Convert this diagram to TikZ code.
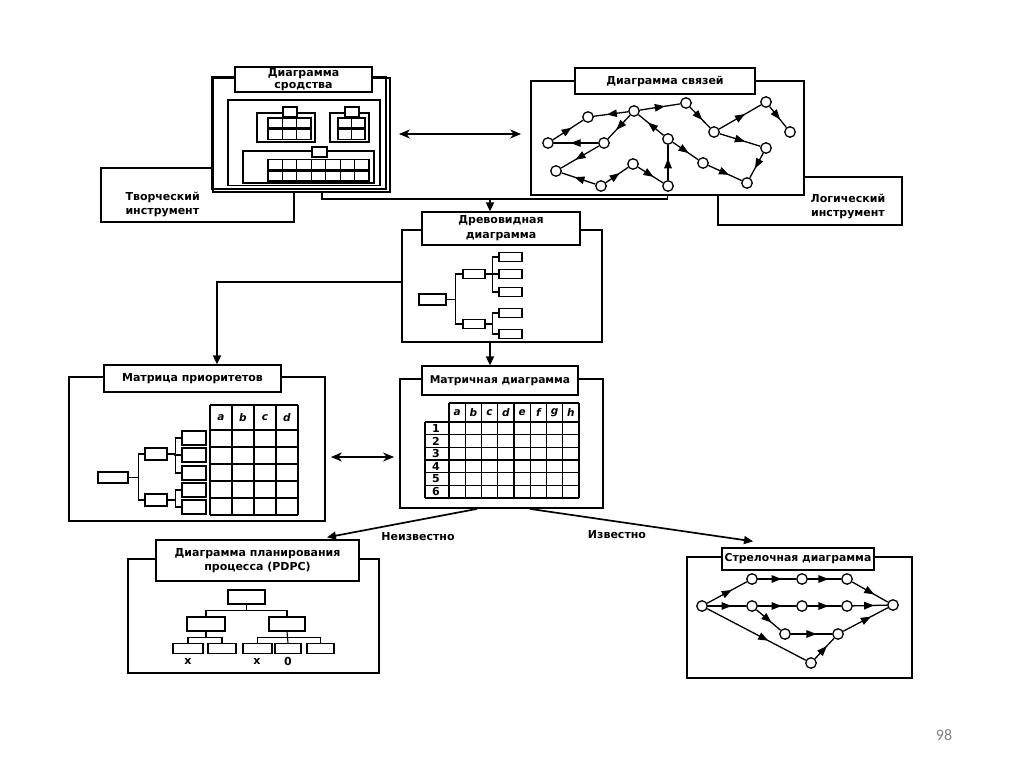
\documentclass[tikz,border=0pt]{standalone}
\usepackage{fontspec}
\setmainfont{DejaVu Sans}
\newfontfamily\numfont{Carlito}
\usetikzlibrary{arrows.meta,decorations.markings,calc}
\begin{document}
\begin{tikzpicture}[x=1pt,y=-1pt,
  txt/.style={font=\fontsize{11}{12}\selectfont\bfseries},
  itxt/.style={font=\fontsize{10.5}{12}\selectfont\bfseries\itshape},
  bigframe/.style={draw,line width=1.8pt,fill=white,inner sep=0pt},
  titlebox/.style={draw,line width=1.3pt,fill=white,align=center,inner sep=0pt,txt},
  sbox/.style={draw,line width=1.2pt,fill=white,inner sep=0pt},
  gnode/.style={circle,draw,line width=1.3pt,fill=white,minimum size=10.5pt,inner sep=0pt},
  midarrow/.style={postaction={decorate},decoration={markings,mark=at position 0.62 with {\arrow{Triangle[length=10pt,width=7.5pt]}}}},
  gedge/.style={line width=1.3pt},
  conn/.style={line width=1.9pt},
  arrtip/.style={-{Triangle[length=9pt,width=8pt]}},
  dbl/.style={line width=1.9pt,{Stealth[length=11pt,width=9pt]}-{Stealth[length=11pt,width=9pt]}},
  gridline/.style={line width=1.2pt},
  tline/.style={line width=1.1pt}
]
\useasboundingbox[fill=white] (0,0) rectangle (1024,767);

% ---------- Diagram of affinity ----------
\node[sbox,line width=1.4pt,minimum width=193pt,minimum height=54pt] (tvor) at (197.5,195) {};
\node[txt,font=\fontsize{11}{14}\selectfont\bfseries,align=left,anchor=west] (tvorlbl) at (122,204.5) {Творческий\\инструмент};
\node[bigframe,minimum width=177pt,minimum height=114pt] (afin) at (301.5,135) {};
\draw[line width=1.3pt] (afin.north west) rectangle ($(afin.south east)+(-5,-4)$);
\node[sbox,line width=1.4pt,minimum width=152pt,minimum height=85.5pt] (afinin) at (304,142.75) {};
\node[titlebox,minimum width=137pt,minimum height=25pt,font=\fontsize{11}{11.5}\selectfont\bfseries] (afint) at (303.5,79.5) {Диаграмма\\сродства};
% group 1
\node[sbox,minimum width=58pt,minimum height=29pt] (g1) at (286,127.5) {};
\foreach \i in {0,1,2} {
  \draw[tline] (268+14.33*\i,118) rectangle ++(14.33,10);
  \draw[tline] (268+14.33*\i,129.5) rectangle ++(14.33,10);
}
\node[sbox,minimum width=14pt,minimum height=10pt] (g1t) at (290,112) {};
% group 2
\node[sbox,minimum width=39pt,minimum height=29pt] (g2) at (349.5,127.5) {};
\foreach \i in {0,1} {
  \draw[tline] (338+13.5*\i,118) rectangle ++(13.5,10);
  \draw[tline] (338+13.5*\i,129.5) rectangle ++(13.5,10);
}
\node[sbox,minimum width=14pt,minimum height=10pt] (g2t) at (352,112) {};
% group 3
\node[sbox,minimum width=131pt,minimum height=32pt] (g3) at (308.5,167) {};
\foreach \i in {0,...,6} {
  \draw[tline] (268+14.43*\i,159.5) rectangle ++(14.43,10);
  \draw[tline] (268+14.43*\i,171) rectangle ++(14.43,10);
}
\node[sbox,minimum width=15pt,minimum height=10pt] (g3t) at (319.5,152) {};

% ---------- Relations diagram ----------
\node[sbox,line width=1.4pt,minimum width=184pt,minimum height=48pt] (logi) at (810,201) {};
\node[txt,font=\fontsize{11}{14.5}\selectfont\bfseries,align=center] (logilbl) at (848,206.5) {Логический\\инструмент};
\node[bigframe,minimum width=273pt,minimum height=114pt] (links) at (667.5,138) {};
\node[titlebox,minimum width=180pt,minimum height=26pt] (linkst) at (665,81) {Диаграмма связей};
\foreach \n/\x/\y in {1/548/143,2/588/117,3/634/111,4/686/103,5/766/102,6/790/132,7/714/132,8/604/143,9/668/139,10/766/148,11/556/171,12/633/164,13/703/163,14/601/186,15/668/186,16/747/183}
  \node[gnode] (ln\n) at (\x,\y) {};
\foreach \a/\b in {1/2,3/2,3/4,4/7,7/5,5/6,7/10,10/16,3/8,8/1,8/11,14/11,14/12,12/15,15/9,9/3,9/13,13/16}
  \draw[gedge,midarrow] (ln\a) -- (ln\b);

\coordinate (c0) at (460,134);
\draw[dbl,shorten <=8pt,shorten >=9pt] (c0 -| afin.east) -- (c0 -| links.west);

% ---------- Tree diagram ----------
\node[bigframe,minimum width=200pt,minimum height=112pt] (tree) at (502,286) {};
\node[titlebox,minimum width=158pt,minimum height=33pt,font=\fontsize{11}{15}\selectfont\bfseries] (treet) at (501,228.5) {Древовидная\\диаграмма};
\coordinate (c1) at (322,199);
\draw[conn] (afin.south -| c1) -- (c1) -- (c1 -| links.south) -- (links.south);
\coordinate (c2) at (490,199);
\draw[conn,arrtip] (c2) -- (c2 |- treet.north);

\node[sbox,minimum width=27pt,minimum height=11pt] (tr0) at (432.5,299.5) {};
\node[sbox,minimum width=22pt,minimum height=9pt] (tm1) at (474,274) {};
\node[sbox,minimum width=22pt,minimum height=9pt] (tm2) at (474,324) {};
\foreach \n/\y in {1/257,2/274,3/292,4/313,5/334}
  \node[sbox,minimum width=23pt,minimum height=9pt] (tl\n) at (510.5,\y) {};
\draw[tline] (tr0.east) -- ++(8.5,0);
\draw[tline] (tm1.west) -| ($(tr0.east)+(8.5,0)$) |- (tm2.west);
\draw[tline] (tm1.east) -- (tl2.west);
\draw[tline] (tl1.west) -| ($(tm1.east)+(7,0)$) |- (tl3.west);
\draw[tline] (tm2.east) -- ++(7,0);
\draw[tline] (tl4.west) -| ($(tm2.east)+(7,0)$) |- (tl5.west);

% ---------- Priority matrix ----------
\node[bigframe,minimum width=256pt,minimum height=144pt] (prio) at (197,449) {};
\node[titlebox,minimum width=177pt,minimum height=27pt] (prt) at (192.5,378.5) {Матрица приоритетов};
\coordinate (c3) at (217,282);
\draw[conn,arrtip] (c3 -| tree.west) -- (c3) -- (c3 |- prt.north);
\foreach \i in {0,...,4} \draw[gridline] (210+22*\i,405) -- (210+22*\i,515);
\foreach \y in {405,430,447,464,481,498,515} \draw[gridline] (210,\y) -- (298,\y);
\foreach \l [count=\i from 0] in {a,b,c,d} \node[itxt] (ph\l) at (221+22*\i,417.5) {\l};
\node[sbox,minimum width=30pt,minimum height=11pt] (pr0) at (113,477.5) {};
\node[sbox,minimum width=22pt,minimum height=12pt] (pm1) at (156,454) {};
\node[sbox,minimum width=22pt,minimum height=12pt] (pm2) at (156,500) {};
\foreach \n/\y in {1/438,2/455,3/473,4/490,5/507}
  \node[sbox,line width=1.4pt,minimum width=24pt,minimum height=14pt] (pl\n) at (194,\y) {};
\draw[tline] (pr0.east) -- ++(10,0);
\draw[tline] (pm1.west) -| ($(pr0.east)+(10,0)$) |- (pm2.west);
\draw[tline] (pm1.east) -- ++(8,0);
\draw[tline] (pl1.west) -| ($(pm1.east)+(8,0)$) |- (pl3.west);
\draw[tline] (pl2.west) -- ++(-7,0);
\draw[tline] (pm2.east) -- ++(8,0);
\draw[tline] (pl4.west) -| ($(pm2.east)+(8,0)$) |- (pl5.west);

% ---------- Matrix diagram ----------
\node[bigframe,minimum width=203pt,minimum height=129pt] (mframe) at (501.5,443.5) {};
\node[titlebox,minimum width=156pt,minimum height=29pt,font=\fontsize{10.7}{12}\selectfont\bfseries] (mt) at (500,380.5) {Матричная диаграмма};
\draw[conn,arrtip] (tree.south -| c2) -- (c2 |- mt.north);
\foreach \k in {0,...,8} \draw[gridline] (449+16.25*\k,403) -- (449+16.25*\k,498);
\draw[gridline] (425,422) -- (425,498);
\draw[gridline] (449,403) -- (579,403);
\foreach \j in {0,...,6} \draw[gridline] (425,422+12.667*\j) -- (579,422+12.667*\j);
\foreach \l [count=\i from 0] in {a,b,c,d,e,f,g,h} \node[itxt] (mh\l) at (457.1+16.25*\i,412.5) {\l};
\foreach \r in {1,...,6} \node[txt] (mr\r) at (436,428.3+12.667*\r-12.667) {\r};
\coordinate (c5) at (360,457);
\draw[dbl,shorten <=5pt,shorten >=5pt] (c5 -| prio.east) -- (c5 -| mframe.west);

% ---------- PDPC ----------
\node[bigframe,minimum width=251pt,minimum height=114pt] (pdpc) at (253.5,616) {};
\node[titlebox,minimum width=203pt,minimum height=41pt,font=\fontsize{11}{13.5}\selectfont\bfseries] (pdpct) at (257.5,560.5) {Диаграмма планирования\\процесса (PDPC)};
\node[sbox,minimum width=37pt,minimum height=14pt] (pt0) at (246.5,597) {};
\node[sbox,minimum width=38pt,minimum height=14pt] (pmL) at (206,624) {};
\node[sbox,minimum width=36pt,minimum height=14pt] (pmR) at (287,624) {};
\foreach \n/\x/\w in {1/188/30,2/222/28,3/257.5/29,4/288/26,5/320.5/27}
  \node[sbox,minimum width=\w pt,minimum height=10pt] (pq\n) at (\x,648.5) {};
\draw[tline] (pt0.south) -- ++(0,6);
\draw[tline] (pmL.north) |- ($(pt0.south)+(0,6)$) -| (pmR.north);
\draw[tline] (pmL.south) -- ++(0,6);
\draw[tline] (pq1.north) |- ($(pmL.south)+(0,6)$) -| (pq2.north);
\draw[tline] (pmR.south) -- (pq4.north);
\draw[tline] (pq3.north) |- ($(pmR.south)+(0,6)$) -| (pq5.north);
\node[txt] (mx1) at (188,661) {x};
\node[txt] (mx2) at (257,661) {x};
\node[txt] (mz) at (288,661) {0};

% ---------- Arrow diagram ----------
\node[bigframe,minimum width=225pt,minimum height=121pt] (arrd) at (799.5,617.5) {};
\node[titlebox,minimum width=152pt,minimum height=22pt,font=\fontsize{10.8}{12}\selectfont\bfseries] (arrt) at (798,559) {Стрелочная диаграмма};
\foreach \n/\x/\y in {s/702/606,a1/752/579,a2/802/579,a3/847/579,b1/752/606,b2/802/606,b3/847/606,t/893/605,c1/785/634,c2/838/634,d/811/663}
  \node[gnode] (ad\n) at (\x,\y) {};
\foreach \a/\b in {s/a1,a1/a2,a2/a3,a3/t,s/b1,b1/b2,b2/b3,b3/t,b1/c1,c1/c2,c2/t,s/d,d/c2}
  \draw[gedge,midarrow] (ad\a) -- (ad\b);

% ---------- bottom arrows ----------
\draw[line width=1.7pt,arrtip] ($(mframe.south)+(-24.5,0)$) -- ($(pdpct.north)+(69.5,-2)$);
\draw[line width=1.7pt,arrtip] ($(mframe.south)+(28.5,0)$) -- ($(arrt.north)+(-45,-6)$);
\node[txt] (unk) at (418,537) {Неизвестно};
\node[txt] (kn) at (617,535) {Известно};

\node[font=\numfont\fontsize{16}{18}\selectfont,text=gray] (pg) at (944,735) {98};
\end{tikzpicture}
\end{document}
